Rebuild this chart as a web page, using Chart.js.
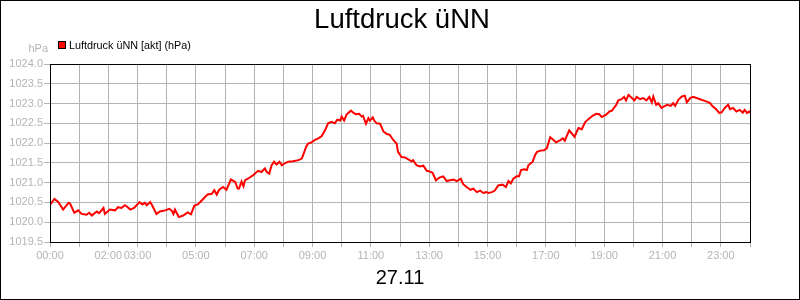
<!DOCTYPE html>
<html>
<head>
<meta charset="utf-8">
<script src="https://cdn.jsdelivr.net/npm/chart.js@4.4.1/dist/chart.umd.min.js"></script>
<style>
html,body{margin:0;padding:0;background:#fff;}
#wrap{width:800px;height:300px;position:relative;}
</style>
</head>
<body>
<div id="wrap"><canvas id="c" width="800" height="300"></canvas></div>
<script>
// Data (time in minutes after 00:00, pressure in hPa)
const chartTitle = "Luftdruck üNN";
const dateLabel = "27.11";
const seriesName = "Luftdruck üNN [akt] (hPa)";
const unitLabel = "hPa";
const shownHourLabels = ["00:00","02:00","03:00","05:00","07:00","09:00","11:00","13:00","15:00","17:00","19:00","21:00","23:00"];

const minutes = [
  0,9,17,27,38,41,50,58,65,75,81,86,96,101,110,113,123,134,140,147,154,160,165,173,184,190,195,199,206,210,
  219,226,237,245,250,254,257,265,274,283,290,297,304,312,324,333,338,343,348,356,363,372,381,386,389,394,398,401,
  411,418,428,435,442,446,451,456,461,466,472,477,483,490,500,511,518,522,527,531,538,545,552,559,566,572,579,586,
  591,597,600,605,610,619,624,629,636,641,644,650,655,658,664,667,672,679,686,693,699,706,713,716,723,730,737,744,
  747,754,761,768,775,782,787,794,801,809,816,823,830,837,845,850,857,865,871,878,885,891,897,902,909,915,922,931,
  938,943,948,953,960,965,969,975,981,984,993,998,1002,1009,1016,1022,1029,1034,1041,1048,1055,1059,1068,1073,1079,
  1087,1094,1101,1107,1116,1124,1130,1135,1144,1151,1156,1165,1169,1176,1181,1185,1190,1197,1202,1207,1214,1220,
  1227,1233,1238,1241,1247,1251,1258,1265,1270,1277,1282,1286,1293,1300,1306,1310,1317,1323,1330,1337,1344,1351,
  1358,1363,1370,1377,1382,1388,1395,1399,1405,1412,1419,1425,1429,1434,1438,1440
];
const pressure = [
  1020.44,1020.59,1020.51,1020.32,1020.49,1020.48,1020.24,1020.30,1020.21,1020.19,1020.24,1020.17,1020.27,1020.23,1020.36,1020.21,1020.32,1020.30,1020.38,1020.36,1020.43,1020.38,1020.32,1020.36,1020.51,1020.45,1020.49,1020.43,1020.51,1020.43,
  1020.21,1020.27,1020.30,1020.34,1020.30,1020.21,1020.32,1020.13,1020.17,1020.25,1020.20,1020.42,1020.45,1020.55,1020.70,1020.72,1020.81,1020.70,1020.82,1020.89,1020.82,1021.08,1021.02,1020.85,1020.85,1021.03,1020.91,1021.06,
  1021.13,1021.19,1021.30,1021.27,1021.36,1021.27,1021.23,1021.44,1021.53,1021.46,1021.53,1021.44,1021.49,1021.53,1021.54,1021.57,1021.61,1021.74,1021.91,1021.99,1022.02,1022.08,1022.12,1022.18,1022.33,1022.50,1022.54,1022.50,
  1022.59,1022.57,1022.67,1022.57,1022.72,1022.82,1022.77,1022.73,1022.74,1022.67,1022.69,1022.49,1022.63,1022.57,1022.65,1022.57,1022.50,1022.49,1022.29,1022.23,1022.21,1022.08,1021.99,1021.78,1021.65,1021.64,1021.59,1021.54,
  1021.57,1021.44,1021.41,1021.43,1021.30,1021.28,1021.25,1021.06,1021.13,1021.16,1021.04,1021.06,1021.08,1021.04,1021.10,1020.96,1020.89,1020.82,1020.85,1020.76,1020.80,1020.74,1020.76,1020.74,1020.76,1020.80,1020.93,1020.95,
  1020.89,1021.04,1020.98,1021.10,1021.16,1021.16,1021.32,1021.34,1021.32,1021.44,1021.53,1021.70,1021.78,1021.81,1021.82,1021.87,1022.15,1022.10,1022.02,1022.06,1022.12,1022.06,1022.32,1022.25,1022.16,
  1022.38,1022.35,1022.53,1022.60,1022.69,1022.74,1022.73,1022.66,1022.72,1022.80,1022.82,1022.97,1023.08,1023.11,1023.17,1023.08,1023.22,1023.14,1023.08,1023.17,1023.11,1023.14,
  1023.08,1023.17,1023.03,1023.18,1022.97,1023.01,1022.89,1022.94,1022.97,1022.94,1023.01,1022.94,1023.10,1023.18,1023.20,1023.03,1023.14,1023.17,1023.14,1023.11,1023.08,1023.05,
  1023.01,1022.93,1022.86,1022.76,1022.78,1022.89,1022.97,1022.86,1022.89,1022.80,1022.84,1022.77,1022.84,1022.76,1022.80,1022.76
];
const yMin = 1019.5, yMax = 1024.0, yStep = 0.5;

const points = minutes.map((m, i) => ({x: m, y: pressure[i]}));
const FONT = "'Liberation Sans', Arial, sans-serif";
const GRAY = '#b4b4b4';

function hhmm(m){ const h = Math.round(m/60); return (h<10?'0':'')+h+':00'; }

const decor = {
  id: 'decor',
  afterDraw(chart){
    const ctx = chart.ctx, a = chart.chartArea;
    ctx.save();
    // plot frame
    ctx.strokeStyle = '#000'; ctx.lineWidth = 1;
    ctx.strokeRect(Math.round(a.left)+0.5, Math.round(a.top)+0.5, Math.round(a.right-a.left), Math.round(a.bottom-a.top));
    // outer frame
    ctx.strokeRect(0.5, 0.5, 799, 299);
    // title
    ctx.fillStyle = '#000';
    ctx.textAlign = 'center'; ctx.textBaseline = 'alphabetic';
    ctx.font = '27.5px ' + FONT;
    ctx.fillText(chartTitle, 402, 28);
    // date
    ctx.font = '20px ' + FONT;
    ctx.fillText(dateLabel, 400, 284);
    // unit
    ctx.fillStyle = GRAY; ctx.textAlign = 'right';
    ctx.font = '11px ' + FONT;
    ctx.fillText(unitLabel, 48, 52);
    // legend
    const ds = chart.data.datasets[0];
    ctx.fillStyle = ds.borderColor;
    ctx.fillRect(58.5, 41.5, 7, 7);
    ctx.strokeStyle = '#000';
    ctx.strokeRect(58.5, 41.5, 7, 7);
    ctx.fillStyle = '#000'; ctx.textAlign = 'left';
    ctx.font = '10.8px ' + FONT;
    ctx.fillText(ds.label, 69, 49);
    ctx.restore();
  }
};

new Chart(document.getElementById('c'), {
  type: 'line',
  data: { datasets: [{ label: seriesName, data: points, borderColor: '#ff0000', borderWidth: 2, pointRadius: 0, tension: 0, fill: false }] },
  options: {
    responsive: false, animation: false,
    layout: { padding: { left: 0, right: 50, top: 64, bottom: 0 } },
    plugins: { legend: { display: false }, title: { display: false }, tooltip: { enabled: false } },
    scales: {
      x: {
        type: 'linear', min: 0, max: 1440,
        afterBuildTicks(s){ const t=[]; for(let m=0;m<=1440;m+=60) t.push({value:m}); s.ticks=t; },
        afterFit(s){ s.height = 58; },
        grid: { color: GRAY, lineWidth: 1, tickLength: 5, tickColor: GRAY },
        border: { display: false },
        ticks: { autoSkip: false, maxRotation: 0, padding: 2, color: GRAY, font: { family: FONT, size: 11 },
          callback(v){ const l = hhmm(v); return shownHourLabels.includes(l) ? l : ''; } }
      },
      y: {
        min: yMin, max: yMax,
        afterFit(s){ s.width = 50; },
        grid: { color: GRAY, lineWidth: 1, tickLength: 6, tickColor: GRAY },
        border: { display: false },
        ticks: { stepSize: yStep, padding: 1, color: GRAY, font: { family: FONT, size: 11 },
          callback(v){ return Number(v).toFixed(1); } }
      }
    }
  },
  plugins: [decor]
});
</script>
</body>
</html>
